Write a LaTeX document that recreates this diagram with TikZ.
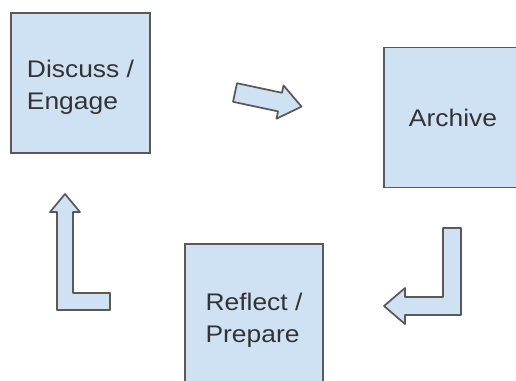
\documentclass[tikz,border=0pt]{standalone}
\usepackage{fontspec}
\setmainfont[FakeStretch=1.1]{Liberation Sans}
\usepackage{tikz}
\definecolor{boxblue}{HTML}{CFE2F3}
\definecolor{edgegray}{HTML}{595959}

\begin{document}
\begin{tikzpicture}[x=0.75pt,y=-0.75pt,box/.style={rectangle, draw=edgegray, line width=1.4pt, fill=boxblue,
     minimum width=104pt, minimum height=105pt, align=left, text=black!80, font=\fontsize{18}{24}\selectfont},
     blockarrow/.style={draw=edgegray, line width=1.3pt, fill=boxblue, line join=round}]
     \clip (0,0) rectangle (516,380);
     \node (discuss) [box, text height=43pt] at (80.5,83) {Discuss /\\Engage};\node (archive) [box] at (453,117.5) {Archive};
     \node (reflect) [box, minimum height=108pt, text height=43pt] at (254,316) {Reflect /\\Prepare};
     % block arrows between the stages
     \begin{scope}[shift={(235,92.5)},rotate=-12]
     \draw [blockarrow] (0,-9.5) -- (46,-9.5) -- (46,-17) -- (68,0) -- (46,17) -- (46,9.5) -- (0,9.5) -- cycle;
     \end{scope}
     \draw [blockarrow] (443,228) -- (461,228) -- (461,315) -- (405,315) -- (405,324) -- (384,306) -- (405,288) -- (405,297) -- (443,297) -- cycle;
     \draw [blockarrow] (65,194) -- (80,212) -- (73,212) -- (73,293) -- (110,293) -- (110,310) -- (57,310) -- (57,212) -- (50,212) -- cycle;
\end{tikzpicture}
\end{document}
